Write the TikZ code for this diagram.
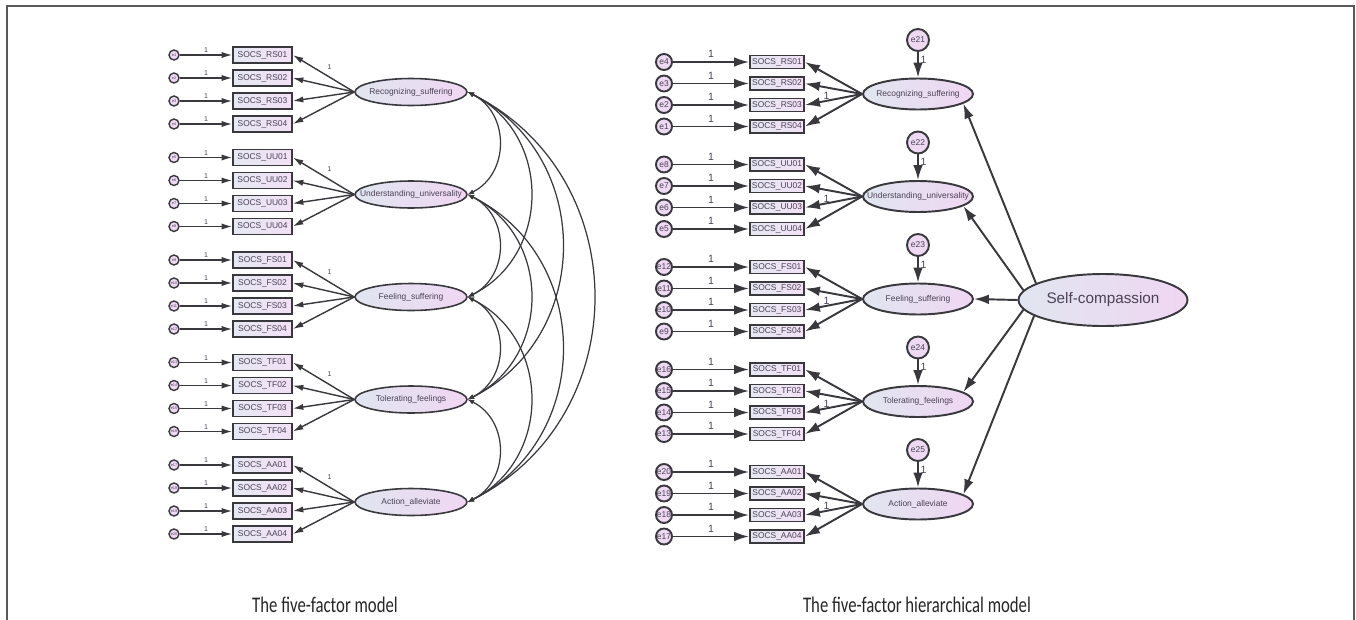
\documentclass[tikz,border=0pt]{standalone}
\usepackage{fontspec}
\setmainfont{Liberation Sans}
\newfontfamily\capfont[FakeStretch=0.75]{Carlito}
\usetikzlibrary{arrows.meta,shapes.geometric,positioning}
\definecolor{LineClr}{rgb}{0.22,0.22,0.24}
\definecolor{FrameClr}{rgb}{0.35,0.35,0.35}
\definecolor{TxtClr}{rgb}{0.30,0.26,0.34}
\definecolor{BoxLeft}{rgb}{0.90,0.91,0.95}
\definecolor{BoxRight}{rgb}{0.95,0.88,0.96}
\definecolor{FacLeft}{rgb}{0.88,0.90,0.94}
\definecolor{FacRight}{rgb}{0.94,0.84,0.95}
\definecolor{ErrClr}{rgb}{0.93,0.85,0.95}

\begin{document}
\begin{tikzpicture}[x=0.02cm,y=-0.02cm,
  lbox/.style={draw=LineClr,line width=0.9pt,left color=BoxLeft,right color=BoxRight,
    minimum width=1.18cm,minimum height=0.32cm,inner sep=0pt,
    font=\fontsize{4.8}{5}\selectfont,text=TxtClr},
  rbox/.style={lbox,minimum width=1.08cm,minimum height=0.26cm,line width=1.1pt},
  lerr/.style={circle,draw=LineClr,line width=0.8pt,fill=ErrClr,minimum size=0.2cm,
    inner sep=0pt,font=\fontsize{2.2}{2.5}\selectfont,text=TxtClr},
  rerr/.style={lerr,minimum size=0.32cm,line width=1.1pt,font=\fontsize{4.8}{5}\selectfont},
  dist/.style={rerr,minimum size=0.44cm},
  lfac/.style={ellipse,draw=LineClr,line width=0.9pt,left color=FacLeft,right color=FacRight,
    minimum width=2.24cm,minimum height=0.54cm,inner sep=0pt},
  rfac/.style={lfac,minimum width=2.2cm,minimum height=0.62cm,line width=1.1pt},
  topfac/.style={lfac,minimum width=3.38cm,minimum height=1.04cm,line width=1.1pt,
    font=\fontsize{8.7}{10}\selectfont,text=TxtClr},
  ftxt/.style={font=\fontsize{4.8}{5}\selectfont,text=TxtClr},
  larr/.style={draw=LineClr,line width=0.8pt,-{Latex[length=6pt,width=3.5pt]}},
  rarr/.style={draw=LineClr,line width=1.1pt,-{Latex[length=8.5pt,width=5.5pt]}},
  cov/.style={draw=LineClr,line width=0.7pt,{Latex[length=3.5pt,width=3pt]}-{Latex[length=3.5pt,width=3pt]}},
  lone/.style={font=\fontsize{4}{4.5}\selectfont,text=TxtClr,inner sep=1pt},
  rone/.style={font=\fontsize{6}{6.5}\selectfont,text=TxtClr,inner sep=1pt},
  caption/.style={font=\capfont\fontsize{12.7}{14}\selectfont,text=black!85},
]
\useasboundingbox (0,0) rectangle (1356,619);
\draw[FrameClr,line width=0.9pt] (7,630) -- (7,6) -- (1354,6) -- (1354,630);

% both models, one factor at a time
\foreach \g/\cd/\lab [count=\k from 0] in {rs/RS/Recognizing\_suffering,
    uu/UU/Understanding\_universality, fs/FS/Feeling\_suffering,
    tf/TF/Tolerating\_feelings, aa/AA/Action\_alleviate}{
  \pgfmathsetmacro\ly{55+102.5*\k}
  \pgfmathsetmacro\ry{62+102.5*\k}
  \pgfmathtruncatemacro\dn{21+\k}
  \node[lfac,label={[ftxt]center:\lab}] (lf\g) at (411,\ly+37) {};
  \node[rfac,label={[ftxt]center:\lab}] (rf\g) at (918,\ry+32) {};
  \node[dist] (rd\g) at (918,\ry-22) {e\dn};
  \draw[rarr] (rd\g) -- node[pos=.3,right,rone]{1} (rf\g);
  \foreach \i in {1,...,4}{
    \pgfmathtruncatemacro\le{4*\k+\i}
    \pgfmathtruncatemacro\re{4*\k+5-\i}
    % five-factor model
    \node[lbox] (lx\g\i) at (262.5,\ly+23*\i-23) {SOCS\_\cd0\i};
    \node[lerr] (le\g\i) at (174,\ly+23*\i-23) {e\le};
    \draw[larr] (le\g\i) -- node[above,lone]{1} (lx\g\i);
    \ifnum\i=1
      \draw[larr] (lf\g.west) -- node[pos=.4,above=3pt,lone]{1} (lx\g\i.east);
    \else
      \draw[larr] (lf\g.west) -- (lx\g\i.east);
    \fi
    % hierarchical model
    \node[rbox] (rx\g\i) at (777,\ry+21.5*\i-21.5) {SOCS\_\cd0\i};
    \node[rerr] (re\g\i) at (664,\ry+21.5*\i-21.5) {e\re};
    \draw[rarr] (re\g\i) -- node[above=1pt,rone]{1} (rx\g\i);
    \ifnum\i=3
      \draw[rarr] (rf\g.west) -- node[pos=.62,above=-1pt,rone]{1} (rx\g\i.east);
    \else
      \draw[rarr] (rf\g.west) -- (rx\g\i.east);
    \fi
  }
}

% covariances between the five factors
\foreach \a/\b/\n in {rs/uu/1,rs/fs/2,rs/tf/3,rs/aa/4,uu/fs/1,uu/tf/2,uu/aa/3,fs/tf/1,fs/aa/2,tf/aa/1}
  \draw[cov] (lf\a.east) .. controls +(42*\n,21*\n) and +(42*\n,-21*\n) .. (lf\b.east);

% second order factor
\node[topfac] (sc) at (1103,300) {Self-compassion};
\foreach \g/\s/\e in {rs/166/348,uu/173/348,fs/180/0,tf/187/12,aa/193/12}
  \draw[rarr] (sc.\s) -- (rf\g.\e);

\node[caption] (cap1) at (325,605) {The five-factor model};
\node[caption] (cap2) at (917,605) {The five-factor hierarchical model};
\end{tikzpicture}
\end{document}
